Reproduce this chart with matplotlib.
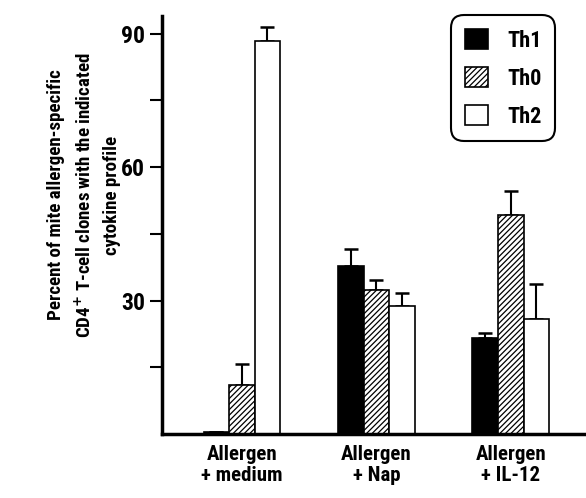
import matplotlib
matplotlib.use('Agg')
import matplotlib.pyplot as plt
import numpy as np

plt.rcParams['font.family'] = ['Roboto Condensed', 'DejaVu Sans']
plt.rcParams['font.weight'] = 'bold'
plt.rcParams['hatch.linewidth'] = 0.9

#%% data
groups = ['Allergen\n+ medium', 'Allergen\n+ Nap', 'Allergen\n+ IL-12']
series = ['Th1', 'Th0', 'Th2']
th1 = [0.5, 37.8, 21.6]
th0 = [11.0, 32.4, 49.3]
th2 = [88.4, 28.8, 25.9]
th1_err = [0.0, 3.8, 1.1]
th0_err = [4.8, 2.2, 5.4]
th2_err = [3.2, 2.9, 7.9]

#%% plot
fig = plt.figure(figsize=(5.86, 4.98), dpi=100)
ax = fig.add_axes([162/586, 1-434/498, 1-162/586, 418/498])

x = np.arange(len(groups))
w = 0.19
styles = [('black', ''), ('white', '//////'), ('white', '')]
vals = [th1, th0, th2]
errs = [th1_err, th0_err, th2_err]
for i, (name, (fc, hatch)) in enumerate(zip(series, styles)):
    ax.bar(x + (i-1)*w, vals[i], w, color=fc, edgecolor='black', linewidth=1.2,
           hatch=hatch, label=name, zorder=2)
    ax.errorbar(x + (i-1)*w, vals[i], yerr=[np.zeros(3), errs[i]], fmt='none',
                ecolor='black', elinewidth=1.5, capsize=5, capthick=1.8, zorder=1)

ax.set_xlim(-0.595, 2.56)
ax.set_ylim(0, 94)
ax.set_yticks([30, 60, 90])
ax.set_yticks([15, 45, 75], minor=True)
ax.tick_params(axis='y', which='both', direction='out', length=9, width=1.5, labelsize=17, pad=3)
ax.set_xticks(x)
ax.set_xticklabels(groups, fontsize=15, linespacing=1.12)
ax.tick_params(axis='x', length=0, pad=8)
for s in ['top', 'right']:
    ax.spines[s].set_visible(False)
for s in ['left', 'bottom']:
    ax.spines[s].set_linewidth(2.5)

fig.text(84/586, 1-195/498, 'Percent of mite allergen-specific\nCD4$^{+}$ T-cell clones with the indicated\ncytokine profile',
         rotation=90, ha='center', va='center', fontsize=13.6, linespacing=1.6, multialignment='center')

leg = ax.legend(loc='upper left', bbox_to_anchor=(451/586, 1-15/498), bbox_transform=fig.transFigure,
                fontsize=16, handlelength=1.05, handleheight=1.05, handletextpad=0.85,
                labelspacing=0.68, borderpad=0.62, borderaxespad=0, fancybox=True, frameon=True,
                framealpha=1)
leg.get_frame().set_edgecolor('black')
leg.get_frame().set_linewidth(1.5)
leg.get_frame().set_boxstyle('round', pad=0, rounding_size=0.6)

plt.savefig('out.png', dpi=100)
